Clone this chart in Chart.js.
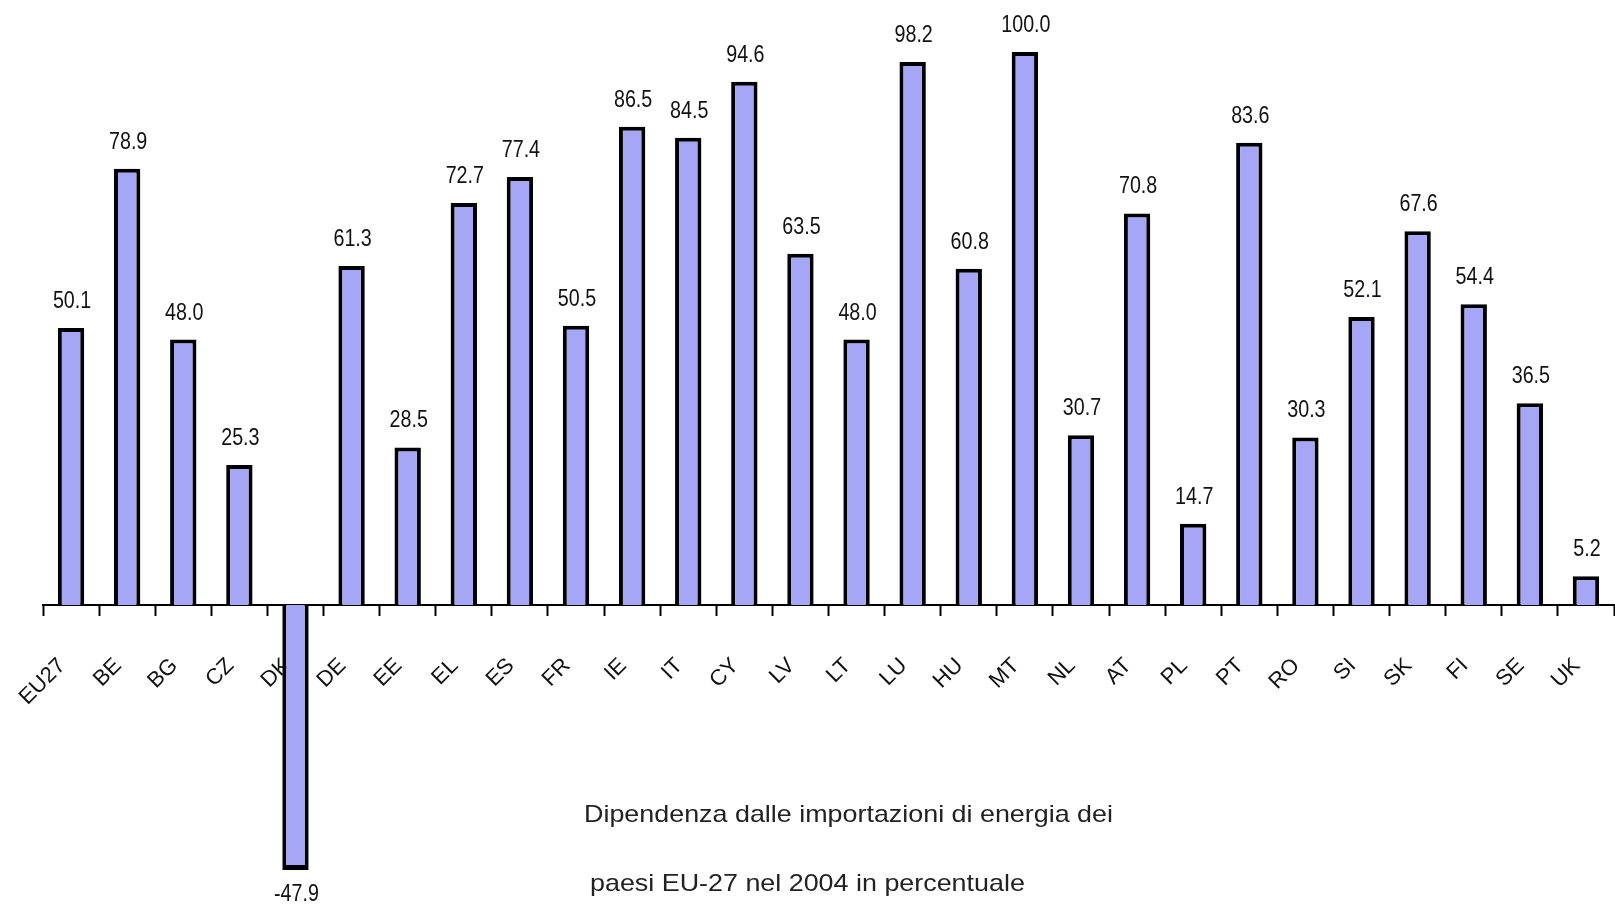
<!DOCTYPE html>
<html>
<head>
<meta charset="utf-8">
<script src="https://cdn.jsdelivr.net/npm/chart.js@4"></script>
<style>
  html, body { margin: 0; padding: 0; background: #ffffff; }
  #chart { display: block; }
</style>
</head>
<body>
<canvas id="chart" width="1615" height="910"></canvas>
<script>
// Energy import dependency of EU-27 countries, 2004 (%)
const countries = ['EU27', 'BE', 'BG', 'CZ', 'DK', 'DE', 'EE', 'EL', 'ES', 'FR', 'IE', 'IT', 'CY', 'LV',
                   'LT', 'LU', 'HU', 'MT', 'NL', 'AT', 'PL', 'PT', 'RO', 'SI', 'SK', 'FI', 'SE', 'UK'];
const dependency = [50.1, 78.9, 48.0, 25.3, -47.9, 61.3, 28.5, 72.7, 77.4, 50.5, 86.5, 84.5, 94.6, 63.5,
                    48.0, 98.2, 60.8, 100.0, 30.7, 70.8, 14.7, 83.6, 30.3, 52.1, 67.6, 54.4, 36.5, 5.2];
const captionLines = ['Dipendenza dalle importazioni di energia dei',
                      'paesi EU-27 nel 2004 in percentuale'];

const barFill = '#a6a6f7';
const ink = '#111111';

// Value printed above (or below, for negatives) each bar
const valueLabels = {
  id: 'valueLabels',
  afterDatasetsDraw(chart) {
    const ctx = chart.ctx;
    const meta = chart.getDatasetMeta(0);
    ctx.save();
    ctx.fillStyle = ink;
    ctx.font = '24px "Liberation Sans", Arial, sans-serif';
    ctx.textAlign = 'center';
    ctx.textBaseline = 'alphabetic';
    meta.data.forEach((bar, i) => {
      const v = dependency[i];
      const text = v.toFixed(1);
      const y = v >= 0 ? bar.y - 20 : bar.y + 31;
      ctx.save();
      ctx.translate(bar.x + 1, y);
      ctx.scale(0.82, 1);
      ctx.fillText(text, 0, 0);
      ctx.restore();
    });
    ctx.restore();
  }
};

// Two-line caption under the axis
const caption = {
  id: 'caption',
  afterDraw(chart) {
    const ctx = chart.ctx;
    ctx.save();
    ctx.fillStyle = '#222222';
    ctx.font = '24px "Liberation Sans", Arial, sans-serif';
    ctx.textAlign = 'left';
    ctx.textBaseline = 'alphabetic';
    const rows = [[584, 822], [590, 891]];
    captionLines.forEach((line, i) => {
      ctx.save();
      ctx.translate(rows[i][0], rows[i][1]);
      ctx.scale(1.12, 1);
      ctx.fillText(line, 0, 0);
      ctx.restore();
    });
    ctx.restore();
  }
};

new Chart(document.getElementById('chart'), {
  type: 'bar',
  data: {
    labels: countries,
    datasets: [{
      data: dependency,
      backgroundColor: barFill,
      borderColor: '#000000',
      borderWidth: (c) => (dependency[c.dataIndex] >= 0
        ? { top: 4, right: 4, bottom: 0, left: 4 }
        : { top: 0, right: 4, bottom: 5, left: 4 }),
      borderSkipped: 'start',
      barPercentage: 0.47,
      categoryPercentage: 1.0
    }]
  },
  options: {
    responsive: false,
    animation: false,
    devicePixelRatio: 1,
    layout: { padding: { left: 43, right: 1, top: 52, bottom: 28.5 } },
    plugins: {
      legend: { display: false },
      tooltip: { enabled: false },
      title: { display: false }
    },
    scales: {
      y: {
        display: false,
        min: -50,
        max: 100
      },
      x: {
        position: { y: 0 },
        offset: true,
        grid: {
          offset: true,
          drawOnChartArea: false,
          drawTicks: true,
          tickLength: 10,
          tickWidth: 2,
          tickColor: '#000000'
        },
        border: { display: true, color: '#000000', width: 2 },
        ticks: {
          autoSkip: false,
          minRotation: 45,
          maxRotation: 45,
          padding: 38,
          labelOffset: -9,
          color: ink,
          font: { family: '"Liberation Sans", Arial, sans-serif', size: 22 }
        },
        afterFit(scale) {
          scale.height = 0;
          scale.paddingLeft = 0;
          scale.paddingRight = 0;
        }
      }
    }
  },
  plugins: [valueLabels, caption]
});
</script>
</body>
</html>
